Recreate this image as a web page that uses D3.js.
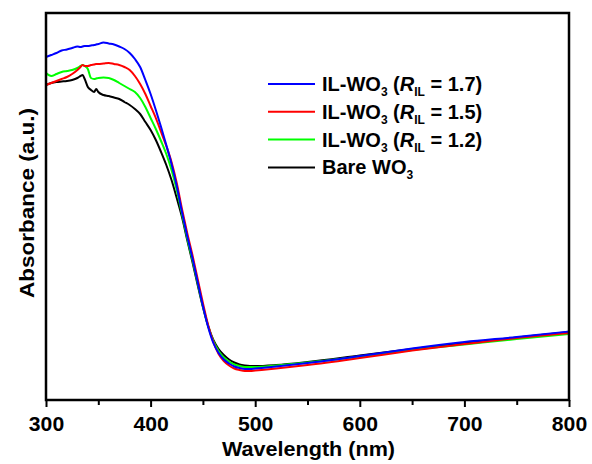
<!DOCTYPE html>
<html>
<head>
<meta charset="utf-8">
<script src="https://cdn.jsdelivr.net/npm/d3@7"></script>
<style>
  body { margin: 0; background: #fff; }
  text { font-family: "Liberation Sans", Arial, sans-serif; font-weight: bold; fill: #000; }
</style>
</head>
<body>
<div id="container"></div>
<script>

// wavelength (nm) shared by all spectra
var wavelengths = [300, 305, 310, 315, 320, 325, 330, 333, 335, 337, 340, 343, 346, 348, 350, 355, 360, 365, 370, 375,
    380, 385, 390, 395, 400, 405, 410, 415, 420, 425, 430, 435, 440, 445, 450, 455, 460, 465, 470, 475,
    480, 485, 490, 495, 500, 520, 550, 600, 650, 700, 750, 800];

// absorbance (a.u.)
var bareWO3 = [3.16, 3.18, 3.19, 3.195, 3.20, 3.21, 3.23, 3.25, 3.26, 3.22, 3.14, 3.11, 3.09, 3.12, 3.09, 3.06, 3.05, 3.035, 3.02, 2.99,
    2.96, 2.92, 2.87, 2.79, 2.71, 2.61, 2.49, 2.36, 2.21, 2.03, 1.84, 1.61, 1.39, 1.16, 0.94, 0.75, 0.61, 0.52, 0.46, 0.415,
    0.385, 0.365, 0.355, 0.35, 0.35, 0.36, 0.39, 0.455, 0.52, 0.58, 0.635, 0.69];
var il12 = [3.28, 3.25, 3.27, 3.29, 3.30, 3.31, 3.33, 3.35, 3.36, 3.35, 3.32, 3.23, 3.22, 3.225, 3.23, 3.235, 3.23, 3.21, 3.18, 3.15,
    3.12, 3.09, 3.03, 2.94, 2.83, 2.72, 2.60, 2.47, 2.31, 2.11, 1.87, 1.63, 1.41, 1.18, 0.95, 0.75, 0.60, 0.50, 0.435, 0.395,
    0.365, 0.35, 0.34, 0.34, 0.34, 0.355, 0.385, 0.445, 0.51, 0.565, 0.62, 0.67];
var il15 = [3.16, 3.18, 3.20, 3.22, 3.24, 3.27, 3.31, 3.34, 3.36, 3.35, 3.35, 3.36, 3.365, 3.37, 3.37, 3.375, 3.38, 3.37, 3.36, 3.34,
    3.31, 3.25, 3.17, 3.07, 2.95, 2.83, 2.69, 2.55, 2.39, 2.18, 1.92, 1.68, 1.46, 1.22, 0.98, 0.76, 0.59, 0.47, 0.40, 0.355,
    0.325, 0.31, 0.30, 0.30, 0.305, 0.325, 0.36, 0.43, 0.505, 0.57, 0.63, 0.68];
var il17 = [3.44, 3.46, 3.48, 3.505, 3.515, 3.53, 3.545, 3.54, 3.545, 3.55, 3.55, 3.555, 3.56, 3.565, 3.57, 3.585, 3.575, 3.565, 3.545, 3.52,
    3.48, 3.42, 3.34, 3.21, 3.07, 2.91, 2.74, 2.56, 2.37, 2.15, 1.89, 1.65, 1.43, 1.19, 0.95, 0.74, 0.58, 0.48, 0.415, 0.375,
    0.345, 0.33, 0.32, 0.32, 0.325, 0.345, 0.38, 0.45, 0.525, 0.59, 0.64, 0.695];

var ratios = ["1.7", "1.5", "1.2", null];   // legend order
var colors = ["#0000ff", "#ff0000", "#00ff00", "#000000"];
var seriesValues = [il17, il15, il12, bareWO3];

var xTicks = [300, 400, 500, 600, 700, 800];
var xMinorTicks = [350, 450, 550, 650, 750];

// note: "top" is taken by window.top, so use plot* names
var width = 592,
    height = 464,
    plotLeft = 46, plotRight = 569, plotTop = 13, plotBottom = 400;

var x = d3.scaleLinear().domain([300, 800]).range([plotLeft, plotRight]);
var y = d3.scaleLinear().domain([0.01, 3.88]).range([plotBottom, plotTop]);

var svg = d3.select("div#container").append("svg")
    .attr("width", width)
    .attr("height", height);

var line = d3.line()
    .x(function (d) { return x(d[0]); })
    .y(function (d) { return y(d[1]); })
    .curve(d3.curveMonotoneX);

// draw bare first so blue ends up on top
var order = [3, 2, 1, 0];
order.forEach(function (i) {
    var pts = wavelengths.map(function (w, j) { return [w, seriesValues[i][j]]; });
    svg.append("path")
        .datum(pts)
        .attr("d", line)
        .attr("fill", "none")
        .attr("stroke", colors[i])
        .attr("stroke-width", 2)
        .attr("stroke-linejoin", "round");
});

// minor ticks
svg.append("g")
    .attr("transform", "translate(0," + plotBottom + ")")
    .call(d3.axisBottom(x).tickValues(xMinorTicks).tickSize(5).tickFormat(""))
    .call(function (g) { g.select(".domain").remove(); })
    .selectAll("line").attr("stroke-width", 2);

var xAxis = svg.append("g")
    .attr("transform", "translate(0," + plotBottom + ")")
    .call(d3.axisBottom(x).tickValues(xTicks).tickSize(7).tickPadding(10).tickFormat(d3.format("d")));
xAxis.select(".domain").remove();
xAxis.selectAll("line").attr("stroke-width", 2);
xAxis.selectAll("text")
    .attr("font-size", 20)
    .style("font-family", "'Liberation Sans', Arial, sans-serif")
    .style("font-weight", "bold")
    .attr("transform", "scale(1.06,1)");

// frame
svg.append("rect")
    .attr("x", plotLeft).attr("y", plotTop)
    .attr("width", plotRight - plotLeft).attr("height", plotBottom - plotTop)
    .attr("fill", "none")
    .attr("stroke", "#000")
    .attr("stroke-width", 2.5);

svg.append("text")
    .attr("x", (plotLeft + plotRight) / 2 + 1)
    .attr("y", 456)
    .attr("text-anchor", "middle")
    .attr("font-size", 20)
    .attr("textLength", 173)
    .attr("lengthAdjust", "spacingAndGlyphs")
    .text("Wavelength (nm)");

svg.append("text")
    .attr("transform", "translate(34,203) rotate(-90)")
    .attr("text-anchor", "middle")
    .attr("font-size", 20)
    .attr("textLength", 190)
    .attr("lengthAdjust", "spacingAndGlyphs")
    .text("Absorbance (a.u.)");

// legend
var legend = svg.append("g").attr("transform", "translate(268,84)");
ratios.forEach(function (r, i) {
    var row = legend.append("g").attr("transform", "translate(0," + (i * 27.8) + ")");
    row.append("line")
        .attr("x1", 0).attr("x2", 47)
        .attr("stroke", colors[i])
        .attr("stroke-width", 2);
    var t = row.append("text")
        .attr("x", 54).attr("y", 7)
        .attr("font-size", 20);
    if (r === null) {
        t.append("tspan").text("Bare WO");
        t.append("tspan").attr("font-size", 12).attr("dy", 5).text("3");
    } else {
        t.append("tspan").text("IL-WO");
        t.append("tspan").attr("font-size", 12).attr("dy", 5).text("3");
        t.append("tspan").attr("dy", -5).text(" (");
        t.append("tspan").attr("font-style", "italic").text("R");
        t.append("tspan").attr("font-size", 12).attr("dy", 5).text("IL");
        t.append("tspan").attr("dy", -5).text(" = " + r + ")");
    }
});

</script>
</body>
</html>
